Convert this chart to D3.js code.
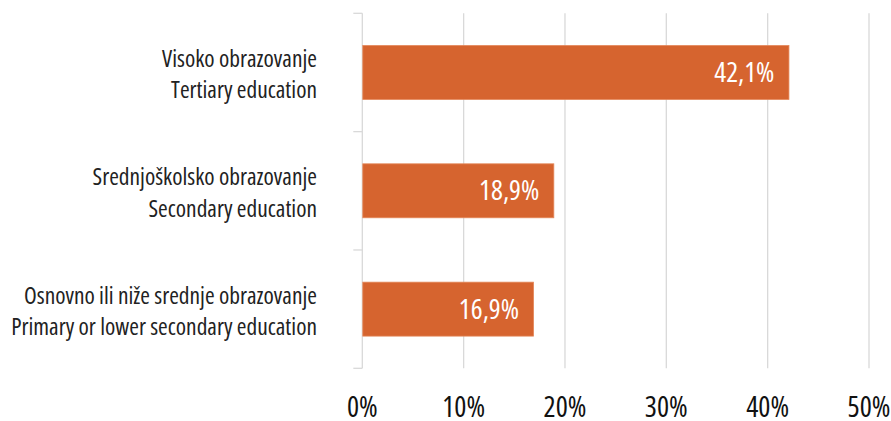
<!DOCTYPE html>
<html>
<head>
<meta charset="utf-8">
<script src="https://cdn.jsdelivr.net/npm/d3@7/dist/d3.min.js"></script>
<style>
  html, body { margin: 0; padding: 0; background: #fff; }
  svg { display: block; }
  text { font-family: "Open Sans", "Liberation Sans", sans-serif; font-stretch: 75%; }
</style>
</head>
<body>
<svg id="chart" width="891" height="421"></svg>
<script>
const categoriesLine1 = ["Visoko obrazovanje", "Srednjoškolsko obrazovanje", "Osnovno ili niže srednje obrazovanje"];
const categoriesLine2 = ["Tertiary education", "Secondary education", "Primary or lower secondary education"];
const values = [42.1, 18.9, 16.9];
const valueLabels = ["42,1%", "18,9%", "16,9%"];
const tickValues = [0, 10, 20, 30, 40, 50];
const tickLabels = ["0%", "10%", "20%", "30%", "40%", "50%"];

const svg = d3.select("#chart");
const margin = { left: 362.3, right: 22, top: 13.3, bottom: 52.7 };
const W = 891, H = 421;

const x = d3.scaleLinear().domain([0, 50]).range([margin.left, W - margin.right]);
const y = d3.scaleBand().domain(d3.range(values.length))
  .range([margin.top, H - margin.bottom]).paddingInner(0.544).paddingOuter(0.272);

const gridColor = "#d9d9d9";

// vertical gridlines
svg.append("g").selectAll("line").data(tickValues.slice(1)).join("line")
  .attr("x1", d => x(d)).attr("x2", d => x(d))
  .attr("y1", margin.top).attr("y2", H - margin.bottom)
  .attr("stroke", gridColor).attr("stroke-width", 1.3);

// y axis line with category separator ticks
const bandEdges = d3.range(values.length + 1).map(i => margin.top + i * y.step());
svg.append("line")
  .attr("x1", x(0)).attr("x2", x(0))
  .attr("y1", margin.top).attr("y2", H - margin.bottom)
  .attr("stroke", gridColor).attr("stroke-width", 1.3);
svg.append("g").selectAll("line").data(bandEdges).join("line")
  .attr("x1", x(0) - 9).attr("x2", x(0))
  .attr("y1", d => d).attr("y2", d => d)
  .attr("stroke", gridColor).attr("stroke-width", 1.3);

// bars
svg.append("g").selectAll("rect").data(values).join("rect")
  .attr("x", x(0) + 0.5)
  .attr("y", (d, i) => y(i))
  .attr("width", d => x(d) - x(0) - 0.5)
  .attr("height", y.bandwidth())
  .attr("fill", "#D6642F")
  .attr("stroke", "#E4885A").attr("stroke-width", 0.8);

// value labels
svg.append("g").selectAll("text").data(values).join("text")
  .attr("x", d => x(d) - 14.5)
  .attr("y", (d, i) => y(i) + y.bandwidth() / 2 + 9.5)
  .attr("text-anchor", "end")
  .attr("fill", "#ffffff")
  .attr("font-size", 28)
  .text((d, i) => valueLabels[i]);

// category labels
const catG = svg.append("g");
values.forEach((v, i) => {
  const c = y(i) + y.bandwidth() / 2;
  const t = catG.append("text").attr("text-anchor", "end").attr("fill", "#222222").attr("font-size", 23.4);
  t.append("tspan").attr("x", 317).attr("y", c - 5.5).text(categoriesLine1[i]);
  t.append("tspan").attr("x", 317).attr("y", c + 26).text(categoriesLine2[i]);
});

// x tick labels
svg.append("g").selectAll("text").data(tickValues).join("text")
  .attr("x", d => x(d))
  .attr("y", 417.3)
  .attr("text-anchor", "middle")
  .attr("fill", "#111111")
  .attr("font-size", 28.5)
  .text((d, i) => tickLabels[i]);
</script>
</body>
</html>
